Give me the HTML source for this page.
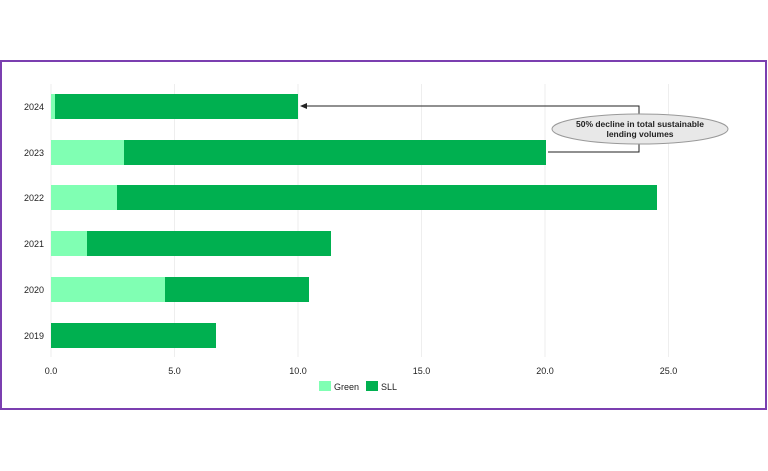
<!DOCTYPE html>
<html><head><style>
html,body{margin:0;padding:0;background:#fff;}
svg{display:block;font-family:"Liberation Sans",sans-serif;}
</style></head><body>
<svg width="768" height="471" viewBox="0 0 768 471">
<rect x="1" y="61" width="765" height="348" fill="#fff" stroke="#7b3fb0" stroke-width="2"/>
<g stroke="#eeeeee" stroke-width="1">
<line x1="51" y1="84" x2="51" y2="357"/>
<line x1="174.5" y1="84" x2="174.5" y2="357"/>
<line x1="298" y1="84" x2="298" y2="357"/>
<line x1="421.5" y1="84" x2="421.5" y2="357"/>
<line x1="545" y1="84" x2="545" y2="357"/>
<line x1="668.5" y1="84" x2="668.5" y2="357"/>
</g>
<g>
<rect x="51" y="94" width="4" height="25" fill="#80ffb3"/><rect x="55" y="94" width="243" height="25" fill="#00b050"/>
<rect x="51" y="140" width="73" height="25" fill="#80ffb3"/><rect x="124" y="140" width="422" height="25" fill="#00b050"/>
<rect x="51" y="185" width="66" height="25" fill="#80ffb3"/><rect x="117" y="185" width="540" height="25" fill="#00b050"/>
<rect x="51" y="231" width="36" height="25" fill="#80ffb3"/><rect x="87" y="231" width="244" height="25" fill="#00b050"/>
<rect x="51" y="277" width="114" height="25" fill="#80ffb3"/><rect x="165" y="277" width="144" height="25" fill="#00b050"/>
<rect x="51" y="323" width="165" height="25" fill="#00b050"/>
</g>
<g font-size="9" fill="#222" text-anchor="end">
<text x="44" y="110">2024</text><text x="44" y="156">2023</text><text x="44" y="201">2022</text>
<text x="44" y="247">2021</text><text x="44" y="293">2020</text><text x="44" y="339">2019</text>
</g>
<g font-size="9" fill="#222" text-anchor="middle">
<text x="51" y="374">0.0</text><text x="174.5" y="374">5.0</text><text x="298" y="374">10.0</text>
<text x="421.5" y="374">15.0</text><text x="545" y="374">20.0</text><text x="668.5" y="374">25.0</text>
</g>
<rect x="319" y="381" width="12" height="10" fill="#80ffb3"/>
<text x="334" y="390" font-size="9" fill="#222">Green</text>
<rect x="366" y="381" width="12" height="10" fill="#00b050"/>
<text x="381" y="390" font-size="9" fill="#222">SLL</text>
<g stroke="#222" stroke-width="1" fill="none">
<polyline points="306,106 639,106 639,118"/>
<polyline points="548,152 639,152 639,141"/>
</g>
<polygon points="300,106 307,103 307,109" fill="#222"/>
<ellipse cx="640" cy="129" rx="88" ry="15" fill="#e8e8e8" stroke="#999" stroke-width="1"/>
<text x="640" y="127" font-size="8.5" font-weight="bold" fill="#222" text-anchor="middle">50% decline in total sustainable</text>
<text x="640" y="137" font-size="8.5" font-weight="bold" fill="#222" text-anchor="middle">lending volumes</text>
</svg>
</body></html>
